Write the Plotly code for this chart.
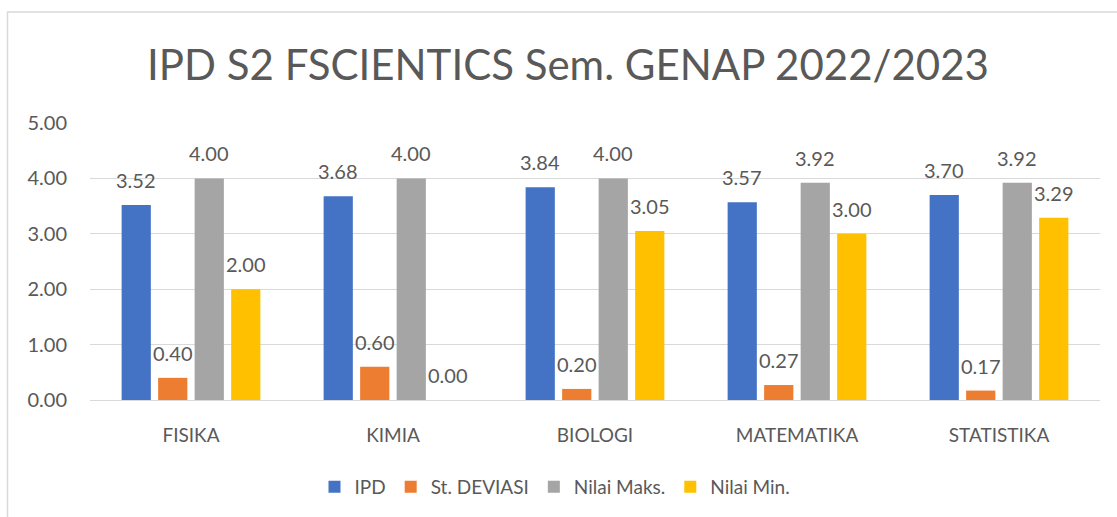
import plotly.graph_objects as go

categories = ["FISIKA", "KIMIA", "BIOLOGI", "MATEMATIKA", "STATISTIKA"]
ipd = [3.52, 3.68, 3.84, 3.57, 3.70]
st_deviasi = [0.40, 0.60, 0.20, 0.27, 0.17]
nilai_maks = [4.00, 4.00, 4.00, 3.92, 3.92]
nilai_min = [2.00, 0.00, 3.05, 3.00, 3.29]

series = [
    ("IPD", ipd, "#4472C4"),
    ("St. DEVIASI", st_deviasi, "#ED7D31"),
    ("Nilai Maks.", nilai_maks, "#A5A5A5"),
    ("Nilai Min.", nilai_min, "#FFC000"),
]

FONT = "Lato"
TXT = "#595959"
W, H = 1117, 517
L, R, T, B = 90, 17, 123, 116
pw, ph = W - L - R, H - T - B

bargap = 0.277
groupgap = 0.2
slot = (1 - bargap) / len(series)

fig = go.Figure()
annotations = []
for k, (name, vals, col) in enumerate(series):
    fig.add_trace(go.Bar(name=name, x=categories, y=vals, marker=dict(color=col, line=dict(width=0)),
                         hoverinfo="x+y+name"))
    off = (-1.5 + k) * slot
    for i, v in enumerate(vals):
        annotations.append(dict(x=i + off, y=v, xref="x", yref="y", text=f"{v:.2f}",
                                showarrow=False, yshift=25, font=dict(family=FONT, size=20, color=TXT)))

def px_x(p):
    return (p - L) / pw

def px_y(p):
    return (H - B - p) / ph

fig.update_layout(
    width=W, height=H,
    margin=dict(l=L, r=R, t=T, b=B),
    paper_bgcolor="white", plot_bgcolor="white",
    barmode="group", bargap=bargap, bargroupgap=groupgap,
    title=dict(text="IPD S2 FSCIENTICS Sem. GENAP 2022/2023", x=568 / W, xanchor="center",
               y=1 - 65 / H, yanchor="middle", font=dict(family=FONT, size=42, color=TXT)),
    font=dict(family=FONT, size=20, color=TXT),
    xaxis=dict(showgrid=False, showline=True, linecolor="#D9D9D9", linewidth=1, ticks="",
               tickfont=dict(family=FONT, size=19, color=TXT), ticklabelstandoff=18),
    yaxis=dict(range=[0, 5], dtick=1, tickformat=".2f", showgrid=True, gridcolor="#D9D9D9",
               gridwidth=1.3, zeroline=False, showline=False, ticks="",
               tickfont=dict(family=FONT, size=20, color=TXT), ticklabelstandoff=22),
    legend=dict(orientation="h", x=px_x(555), xanchor="center", y=px_y(487), yanchor="middle",
                font=dict(family=FONT, size=19, color=TXT), itemwidth=30, traceorder="normal"),
    annotations=annotations,
    shapes=[dict(type="rect", xref="paper", yref="paper", x0=px_x(7.5), x1=px_x(1130),
                 y0=px_y(530), y1=px_y(11.5), line=dict(color="#D9D9D9", width=1.5), layer="below")],
)

fig.write_html("out.html", config={"displayModeBar": False},
               post_script="document.body.style.margin='0px';document.body.style.overflow='hidden';")
